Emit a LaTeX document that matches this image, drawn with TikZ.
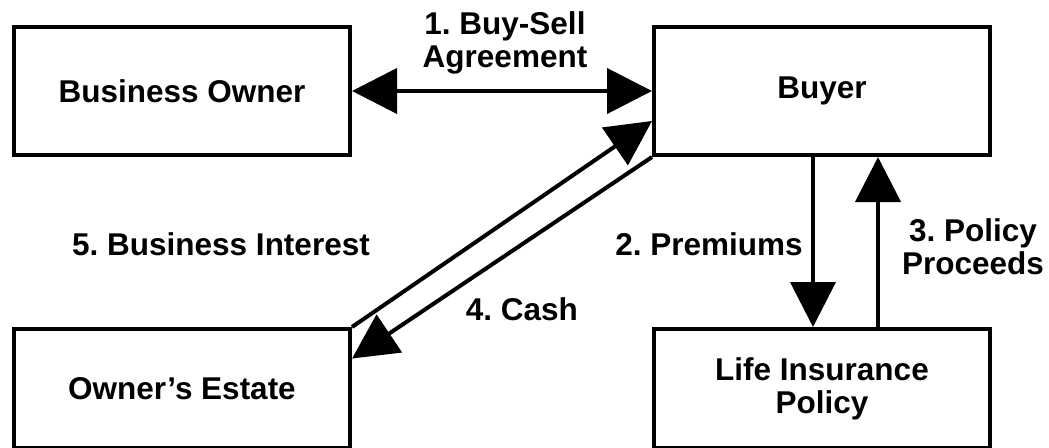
\documentclass[tikz,border=0pt]{standalone}
\usepackage{fontspec}
\setmainfont{Liberation Sans}
\usetikzlibrary{arrows.meta, positioning}
\frenchspacing

\begin{document}
\begin{tikzpicture}[
        x=1pt, y=-1pt,
        node distance=170pt and 300pt,
        block/.style={rectangle, draw, line width=4pt, minimum width=336pt, minimum height=128pt, align=center, font=\bfseries\fontsize{31.5}{33}\selectfont},
        tag/.style={align=center, inner sep=0pt, font=\bfseries\fontsize{31.5}{33}\selectfont},
        flow/.style={draw, line width=4pt, -{Triangle[length=45pt, width=45pt]}}
        ]
        \useasboundingbox (0,0) rectangle (1049,447);

        \node[block] (owner) at (182,91) {Business Owner};
        \node[block, right=of owner] (buyer) {Buyer};
        \node[block, minimum height=119pt, below=of owner] (estate) {Owner’s Estate};
        \node[block, minimum height=119pt, below=of buyer] (policy) {Life Insurance\\Policy};

        \node[tag] (agree) at (505,43) {1. Buy-Sell\\Agreement};
        \node[tag] (interest) at (221,244) {5. Business Interest};
        \node[tag] (premiums) at (709,244) {2. Premiums};
        \node[tag] (proceeds) at (973,247) {3. Policy\\Proceeds};
        \node[tag] (cash) at (522,309) {4. Cash};

        \path[flow, {Triangle[length=45pt, width=45pt]}-{Triangle[length=45pt, width=45pt]}] (owner) -- (buyer);
        \path[flow] (estate.north east) -- (buyer.190);
        \path[flow] (buyer.south west) -- (estate.10);
        \path[flow] ([xshift=-9pt]buyer.south) -- ([xshift=-9pt]policy.north);
        \path[flow] ([xshift=56pt]policy.north) -- ([xshift=56pt]buyer.south);
      \end{tikzpicture}
\end{document}
